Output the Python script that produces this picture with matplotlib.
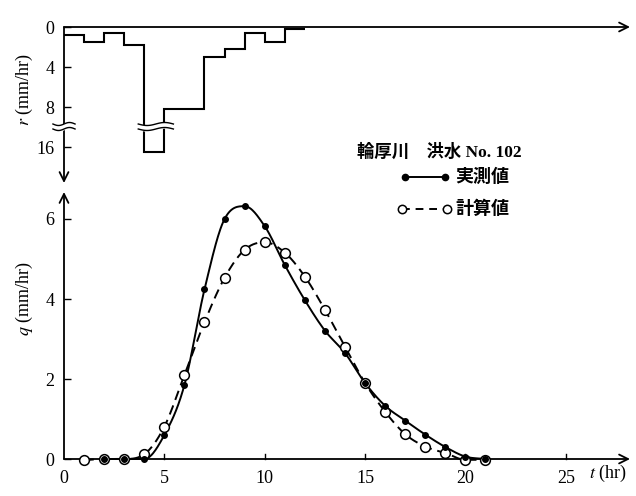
import numpy as np
import matplotlib
matplotlib.use("Agg")
import matplotlib.pyplot as plt
from matplotlib.lines import Line2D

plt.rcParams['font.family'] = ['Liberation Serif', 'Noto Sans CJK JP']
plt.rcParams['mathtext.fontset'] = 'stix'

# ---------------- data ----------------
# rainfall hyetograph (hourly), mm/hr
rain_edges = [0, 1, 2, 3, 4, 5, 6, 7, 8, 9, 10, 11, 12]
rain_vals = [0.8, 1.5, 0.6, 1.75, 16.5, 8.2, 8.2, 3.0, 2.2, 0.6, 1.5, 0.2]
r_ticks = [0, 4, 8, 16]

# observed discharge (実測値)
t_obs = [2, 3, 4, 5, 6, 7, 8, 9, 10, 11, 12, 13, 14, 15, 16, 17, 18, 19, 20, 21]
q_obs = [0.0, 0.0, 0.0, 0.6, 1.85, 4.24, 6.0, 6.32, 5.82, 4.85, 3.97, 3.21,
         2.65, 1.9, 1.33, 0.96, 0.61, 0.30, 0.06, 0.0]

# computed discharge (計算値)
t_cal = [1, 2, 3, 4, 5, 6, 7, 8, 9, 10, 11, 12, 13, 14, 15, 16, 17, 18, 19, 20, 21]
q_cal = [-0.03, 0.0, 0.0, 0.12, 0.81, 2.1, 3.42, 4.53, 5.23, 5.42, 5.16, 4.56,
         3.73, 2.81, 1.9, 1.18, 0.62, 0.31, 0.15, -0.02, -0.02]

x_ticks = [0, 5, 10, 15, 20, 25]
q_ticks = [0, 2, 4, 6]

title_txt = "輪厚川　洪水 No. 102"
lab_obs = "実測値"
lab_cal = "計算値"

# ---------------- helpers ----------------
BREAK = 10.0
GAP = 4.0


def rdisp(v):
    v = np.asarray(v, dtype=float)
    return np.where(v > BREAK, v - GAP, v)


def smooth(x, y, n=500):
    """Monotonicity-limited Catmull-Rom curve through the given points."""
    x = np.asarray(x, float)
    y = np.asarray(y, float)
    h = np.diff(x)
    d = np.diff(y) / h
    m = np.zeros_like(y)
    m[0] = d[0]
    m[-1] = d[-1]
    for k in range(1, len(x) - 1):
        if d[k - 1] * d[k] <= 0:
            m[k] = 0.0
        else:
            m[k] = (y[k + 1] - y[k - 1]) / (x[k + 1] - x[k - 1])
    for k in range(len(d)):
        if d[k] == 0:
            m[k] = 0.0
            m[k + 1] = 0.0
        else:
            a = m[k] / d[k]
            b = m[k + 1] / d[k]
            s = a * a + b * b
            if s > 9:
                tau = 3 / np.sqrt(s)
                m[k] = tau * a * d[k]
                m[k + 1] = tau * b * d[k]
    xs = np.linspace(x[0], x[-1], n)
    idx = np.clip(np.searchsorted(x, xs) - 1, 0, len(x) - 2)
    t = (xs - x[idx]) / h[idx]
    h00 = 2 * t**3 - 3 * t**2 + 1
    h10 = t**3 - 2 * t**2 + t
    h01 = -2 * t**3 + 3 * t**2
    h11 = t**3 - t**2
    ys = h00 * y[idx] + h10 * h[idx] * m[idx] + h01 * y[idx + 1] + h11 * h[idx] * m[idx + 1]
    return xs, ys


# ---------------- figure ----------------
W, H = 636, 496
fig = plt.figure(figsize=(W / 100, H / 100), dpi=100)

x0, x1 = 64, 630
XMAX = 28.2
FS = 13

# top axes (rain)
top_y0, top_y1 = 27, 183
axr = fig.add_axes([x0 / W, 1 - top_y1 / H, (x1 - x0) / W, (top_y1 - top_y0) / H])
axr.set_xlim(0, XMAX)
axr.set_ylim(15.6, 0)
for s in axr.spines.values():
    s.set_visible(False)
axr.stairs(rdisp(rain_vals), rain_edges, color='black', lw=1.5, baseline=None, zorder=3)
axr.set_yticks(rdisp(r_ticks))
axr.set_yticklabels([str(v) for v in r_ticks])
axr.tick_params(axis='y', direction='in', length=5, width=1, pad=7, labelsize=FS)
axr.set_xticks([])
arrow_kw = dict(arrowstyle='->', lw=1.3, color='black', mutation_scale=16, shrinkA=0, shrinkB=0)
axr.annotate('', xy=(XMAX, 0), xytext=(0, 0), arrowprops=arrow_kw, annotation_clip=False)
axr.annotate('', xy=(0, 15.6), xytext=(0, 0), arrowprops=arrow_kw, annotation_clip=False)


# break marks
def brk(ax, xa, xb):
    xs = np.linspace(xa, xb, 60)
    ph = (xs - xa) / (xb - xa) * 2 * np.pi
    ya = 9.7 + 0.15 * np.sin(ph)
    yb = 10.2 + 0.15 * np.sin(ph)
    ax.fill_between(xs, ya, yb, color='white', zorder=5, clip_on=False)
    ax.plot(xs, ya, color='black', lw=1.0, zorder=6, clip_on=False)
    ax.plot(xs, yb, color='black', lw=1.0, zorder=6, clip_on=False)


brk(axr, -0.55, 0.55)
brk(axr, 3.7, 5.45)

axr.text(-1.95, 6.3, r"$r$ (mm/hr)", rotation=90, ha='center', va='center', fontsize=FS)

# bottom axes (discharge)
bot_top, q0px, qscale = 192, 459, 40.0
qmin = -0.3
qmax = (q0px - bot_top) / qscale
bot_px = q0px - qmin * qscale
axq = fig.add_axes([x0 / W, 1 - bot_px / H, (x1 - x0) / W, (bot_px - bot_top) / H])
axq.set_xlim(0, XMAX)
axq.set_ylim(qmin, qmax)
for s in axq.spines.values():
    s.set_visible(False)
axq.annotate('', xy=(XMAX, 0), xytext=(0, 0), arrowprops=arrow_kw, annotation_clip=False)
axq.annotate('', xy=(0, qmax), xytext=(0, 0), arrowprops=arrow_kw, annotation_clip=False)

axq.set_xticks([])
axq.set_yticks(q_ticks)
axq.set_yticklabels([str(v) for v in q_ticks])
axq.tick_params(axis='y', direction='in', length=5, width=1, pad=7, labelsize=FS)
for xt in x_ticks[1:]:
    axq.plot([xt, xt], [0, 0.13], color='black', lw=1, zorder=2)
for xt in x_ticks:
    axq.text(xt, -0.27, str(xt), ha='center', va='top', fontsize=FS)

xs, ys = smooth(t_obs, q_obs)
axq.plot(xs, ys, color='black', lw=1.4, zorder=2)
xs, ys = smooth(t_cal, q_cal)
axq.plot(xs, ys, color='black', lw=1.4, ls=(0, (5, 3)), zorder=2)
axq.plot(t_cal, q_cal, 'o', ms=7, mfc='white', mec='black', mew=1.1, zorder=3, clip_on=False)
axq.plot(t_obs, q_obs, 'o', ms=4, mfc='black', mec='black', zorder=4, clip_on=False)

axq.text(28.06, -0.37, r"$t$ (hr)", ha='right', va='center', fontsize=FS)
axq.text(-1.95, 4.0, r"$q$ (mm/hr)", rotation=90, ha='center', va='center', fontsize=FS)


# legend (manual)
def fx(px):
    return px / W


def fy(py):
    return 1 - py / H


fig.text(fx(357), fy(152), title_txt, ha='left', va='center', fontsize=12.5, fontweight='bold')
fig.add_artist(Line2D([fx(405), fx(445)], [fy(177), fy(177)], color='black', lw=1.4,
                      marker='o', ms=4.5, mfc='black', mec='black'))
fig.text(fx(455), fy(177), lab_obs, ha='left', va='center', fontsize=13, fontweight='bold')
fig.add_artist(Line2D([fx(402), fx(447)], [fy(209), fy(209)], color='black', lw=1.4,
                      ls=(0, (4, 3)), marker='o', ms=6, mfc='white', mec='black', mew=1.1))
fig.text(fx(455), fy(209), lab_cal, ha='left', va='center', fontsize=13, fontweight='bold')

fig.savefig("out.png", dpi=100)
